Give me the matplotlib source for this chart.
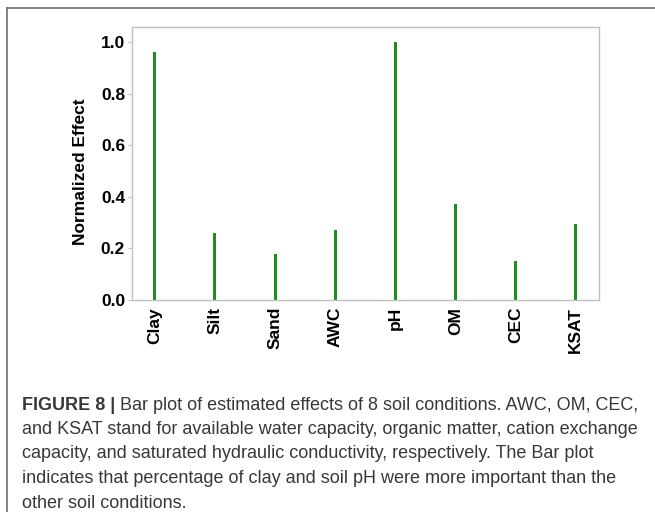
import matplotlib
matplotlib.use("Agg")
import matplotlib.pyplot as plt
from matplotlib.lines import Line2D

categories = ["Clay", "Silt", "Sand", "AWC", "pH", "OM", "CEC", "KSAT"]
effects = [0.96, 0.26, 0.178, 0.27, 1.0, 0.372, 0.152, 0.295]
yticks = [0.0, 0.2, 0.4, 0.6, 0.8, 1.0]
ytick_labels = ["0.0", "0.2", "0.4", "0.6", "0.8", "1.0"]

caption_bold = "FIGURE 8 |"
caption_lines = [
    " Bar plot of estimated effects of 8 soil conditions. AWC, OM, CEC,",
    "and KSAT stand for available water capacity, organic matter, cation exchange",
    "capacity, and saturated hydraulic conductivity, respectively. The Bar plot",
    "indicates that percentage of clay and soil pH were more important than the",
    "other soil conditions.",
]

plt.rcParams['font.family'] = ['Liberation Sans', 'DejaVu Sans']

W, H = 655, 512
fig = plt.figure(figsize=(W / 100, H / 100), dpi=100)

ax = fig.add_axes([132 / W, 1 - 300 / H, (599 - 132) / W, (300 - 27) / H])
x = list(range(len(categories)))
ax.bar(x, effects, width=0.05, color="#228b22")
ax.set_xlim(-0.38, 7.39)
ax.set_ylim(0, 1.058)
ax.set_xticks(x)
ax.set_xticklabels(categories, rotation=90, fontweight="heavy", fontsize=12.5)
ax.set_yticks(yticks)
ax.set_yticklabels(ytick_labels, fontweight="heavy", fontsize=12.5)
ax.set_ylabel("Normalized Effect", fontweight="heavy", fontsize=12.5)
ax.yaxis.set_label_coords(-0.094, 0.47)
for s in ax.spines.values():
    s.set_color("#c0c0c0")
    s.set_linewidth(1.0)
ax.tick_params(axis="both", length=3, color="#c0c0c0", pad=2)
ax.tick_params(axis="x", length=0, pad=5)

# outer frame (left and top edges)
fig.add_artist(Line2D([7 / W, 7 / W], [0, 1 - 8 / H], transform=fig.transFigure,
                      color="#707070", lw=1.2))
fig.add_artist(Line2D([7 / W, 1], [1 - 8 / H, 1 - 8 / H], transform=fig.transFigure,
                      color="#707070", lw=1.2))

# caption
cap_color = "#383838"
fs = 13.0
x0 = 22 / W
y0 = 405
dy = 24.5
tb = fig.text(x0, 1 - y0 / H, caption_bold, fontsize=fs, fontweight="bold",
              color=cap_color, va="center", ha="left")
fig.canvas.draw()
bb = tb.get_window_extent(renderer=fig.canvas.get_renderer())
for i, line in enumerate(caption_lines):
    xx = (bb.x1 / W) if i == 0 else x0
    fig.text(xx, 1 - (y0 + i * dy) / H, line, fontsize=fs, color=cap_color,
             va="center", ha="left")

fig.savefig("out.png", dpi=100)
